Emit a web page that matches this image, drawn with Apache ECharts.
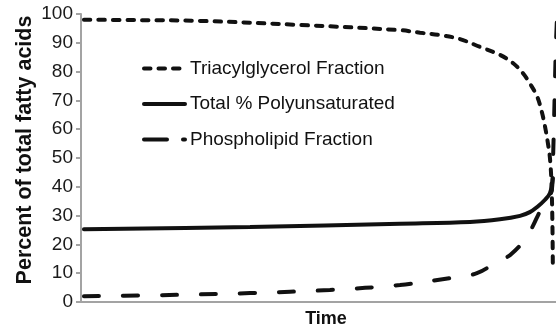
<!DOCTYPE html>
<html>
<head>
<meta charset="utf-8">
<script src="https://cdn.jsdelivr.net/npm/echarts@6/dist/echarts.min.js"></script>
<style>
  html, body { margin: 0; padding: 0; background: #fff; }
  #chart { width: 556px; height: 333px; }
</style>
</head>
<body>
<div id="chart"></div>
<script>
// Fatty acid composition over time (relative time units 0-100)
const yTicks = [0, 10, 20, 30, 40, 50, 60, 70, 80, 90, 100];

const tagTime   = [0.6, 10.0, 24.3, 44.7, 65.1, 69.2, 73.3, 77.3, 81.4, 85.5, 88.2, 90.2, 91.6, 93.1, 94.1, 94.7, 95.3, 95.7, 96.0, 96.2, 96.3];
const tagValues = [98.0, 97.9, 97.6, 96.2, 94.4, 93.5, 92.7, 91.3, 88.6, 85.8, 82.9, 79.4, 75.9, 71.3, 65.6, 60.9, 55.0, 50.0, 42.0, 28.0, 11.0];

const pufaTime   = [0.6, 34.5, 65.1, 79.4, 85.5, 89.6, 91.6, 93.1, 94.7, 95.7, 96.3];
const pufaValues = [25.3, 26.0, 27.2, 27.8, 28.7, 29.9, 31.2, 33.0, 35.5, 37.8, 43.0];

const plTime   = [0.6, 14.1, 34.5, 50.8, 65.1, 75.3, 80.8, 85.5, 87.6, 91.0, 94.1, 96.1, 96.3, 96.5, 96.9, 97.1];
const plValues = [2.0, 2.3, 3.1, 4.2, 5.9, 8.3, 10.0, 14.6, 16.3, 22.7, 33.0, 39.0, 48.0, 60.0, 88.0, 97.0];

const seriesNames = ['Triacylglycerol Fraction', 'Total % Polyunsaturated', 'Phospholipid Fraction'];

function pairs(xs, ys) { return xs.map((x, i) => [x, ys[i]]); }

const axisGray = '#a3a3a3';
const ink = '#111111';
const font = 'Liberation Sans, Arial, Helvetica, sans-serif';

const tagDash = [6.5, 8];
const plDash = [15, 24];

const chart = echarts.init(document.getElementById('chart'), null, { renderer: 'canvas' });

function lineSeries(name, data, dash) {
  return {
    name: name,
    type: 'line',
    data: data,
    showSymbol: false,
    symbol: 'none',
    smooth: 0.35,
    clip: true,
    lineStyle: { color: ink, width: 4, type: dash, cap: 'round' },
    itemStyle: { color: ink },
    emphasis: { disabled: true }
  };
}

chart.setOption({
  animation: false,
  backgroundColor: '#ffffff',
  grid: { left: 81, width: 490, top: 14, bottom: 31, containLabel: false, outerBoundsMode: 'none' },
  legend: {
    orient: 'vertical',
    left: 137,
    top: 54,
    itemWidth: 41,
    itemHeight: 14,
    itemGap: 16.5,
    itemStyle: { opacity: 0 },
    textStyle: { fontFamily: font, fontSize: 19, color: ink },
    selectedMode: false,
    data: [
      { name: seriesNames[0], lineStyle: { type: tagDash, width: 4, cap: 'round', color: ink } },
      { name: seriesNames[1], lineStyle: { type: 'solid', width: 4, color: ink } },
      { name: seriesNames[2], lineStyle: { type: [23, 16], width: 4, cap: 'round', color: ink } }
    ]
  },
  xAxis: {
    type: 'value',
    min: 0,
    max: 100,
    name: 'Time',
    nameLocation: 'middle',
    nameGap: 8,
    nameMoveOverlap: false,
    nameTextStyle: { fontFamily: font, fontSize: 18, fontWeight: 'bold', color: ink, verticalAlign: 'top' },
    axisLine: { show: true, lineStyle: { color: axisGray, width: 2 } },
    axisTick: { show: false },
    axisLabel: { show: false },
    splitLine: { show: false }
  },
  yAxis: {
    type: 'value',
    min: yTicks[0],
    max: yTicks[yTicks.length - 1],
    interval: 10,
    name: 'Percent of total fatty acids',
    nameLocation: 'middle',
    nameGap: 45,
    nameMoveOverlap: false,
    nameRotate: 90,
    nameTextStyle: { fontFamily: font, fontSize: 21.5, fontWeight: 'bold', color: ink, padding: [0, 0, 0, 16] },
    axisLine: { show: true, lineStyle: { color: axisGray, width: 2 } },
    axisTick: { show: true, inside: false, length: 5, lineStyle: { color: axisGray, width: 2 } },
    axisLabel: { fontFamily: font, fontSize: 19, color: '#1a1a1a', margin: 8 },
    splitLine: { show: false }
  },
  series: [
    lineSeries(seriesNames[0], pairs(tagTime, tagValues), tagDash),
    lineSeries(seriesNames[1], pairs(pufaTime, pufaValues), 'solid'),
    lineSeries(seriesNames[2], pairs(plTime, plValues), plDash)
  ]
});
</script>
</body>
</html>
